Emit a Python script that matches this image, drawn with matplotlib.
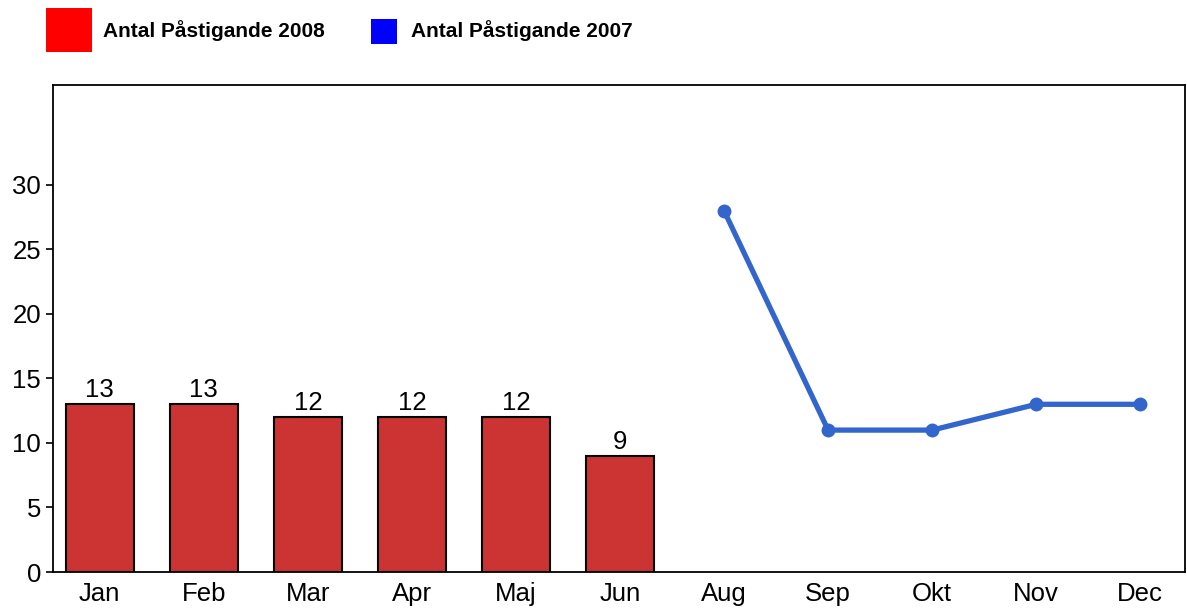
import numpy as np
import matplotlib.pyplot as plt
from matplotlib.patches import Rectangle

plt.rcParams['font.family'] = ['Liberation Sans', 'DejaVu Sans']

months = ['Jan', 'Feb', 'Mar', 'Apr', 'Maj', 'Jun', 'Aug', 'Sep', 'Okt', 'Nov', 'Dec']
bar_months = ['Jan', 'Feb', 'Mar', 'Apr', 'Maj', 'Jun']
bar_values = [13, 13, 12, 12, 12, 9]
line_months = ['Aug', 'Sep', 'Okt', 'Nov', 'Dec']
line_values = [28, 11, 11, 13, 13]
legend_labels = ['Antal Påstigande 2008', 'Antal Påstigande 2007']

W, H = 1187, 609
fig = plt.figure(figsize=(W / 100, H / 100), dpi=100)
ax = fig.add_axes([53 / W, 1 - 572 / H, (1185 - 53) / W, (572 - 85) / H])

xpos = {m: i for i, m in enumerate(months)}
bx = [xpos[m] for m in bar_months]
lx = [xpos[m] for m in line_months]

bars = ax.bar(bx, bar_values, width=0.65, color='#CC3333', edgecolor='black', linewidth=1.5, zorder=2)
for x, v in zip(bx, bar_values):
    ax.text(x, v + 0.15, str(v), ha='center', va='bottom', fontsize=18.5)

ax.plot(lx, line_values, color='#3366CC', linewidth=3.8, marker='o', markersize=9, zorder=3)

ax.set_xlim(-0.45, 10.43)
ax.set_ylim(0, 37.75)
ax.set_yticks(range(0, 31, 5))
ax.set_xticks(range(len(months)))
ax.set_xticklabels(months)
ax.tick_params(axis='y', labelsize=18.5, length=5, width=1.2)
ax.tick_params(axis='x', labelsize=18.5, length=0, pad=7)
for s in ax.spines.values():
    s.set_linewidth(1.3)

# legend drawn manually at the top
fig.patches.append(Rectangle((46 / W, 1 - 52 / H), 46 / W, 44 / H, transform=fig.transFigure,
                             facecolor='#FF0000', edgecolor='none'))
fig.patches.append(Rectangle((371 / W, 1 - 44 / H), 26 / W, 25 / H, transform=fig.transFigure,
                             facecolor='#0000FF', edgecolor='none'))
fig.text(103 / W, 1 - 31 / H, legend_labels[0], fontsize=15, fontweight='bold', va='center')
fig.text(411 / W, 1 - 31 / H, legend_labels[1], fontsize=15, fontweight='bold', va='center')

fig.savefig('out.png', dpi=100)
